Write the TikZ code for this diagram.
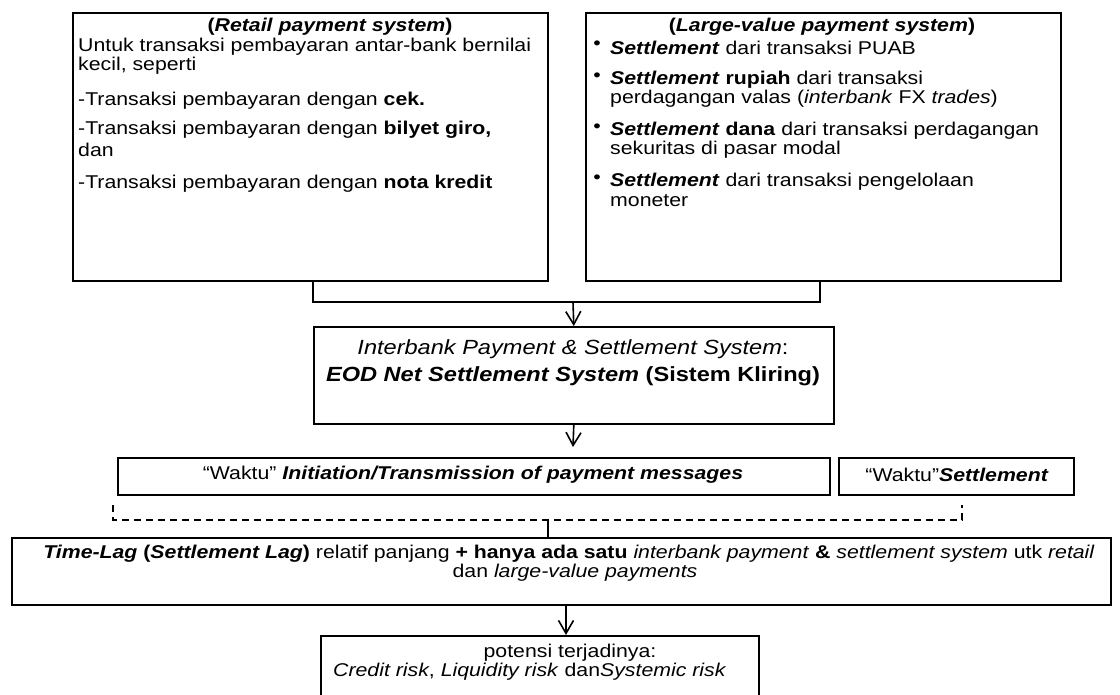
\documentclass[tikz,border=0pt]{standalone}
\usepackage{fontspec}
\setmainfont{Liberation Sans}[FakeStretch=1.15]
\usetikzlibrary{arrows.meta}
\begin{document}
\begin{tikzpicture}[x=1pt,y=-1pt,
  frame/.style={draw, line width=1.6pt, inner sep=0pt, anchor=north west},
  body/.style={inner sep=0pt, font=\fontsize{18.5}{19}\selectfont},
  lbody/.style={body, anchor=west},
  big/.style={inner sep=0pt, font=\fontsize{20.5}{22}\selectfont},
  link/.style={line width=1.6pt},
  arr/.style={line width=1.6pt, -{Straight Barb[length=13pt,width=15pt,line width=1.6pt]}},
  dsh/.style={line width=1.5pt, dash pattern=on 7pt off 5pt}
]
\useasboundingbox (0,0) rectangle (1120,694);

% ---------- two source systems ----------
\node[frame, minimum width=475pt, minimum height=268pt] (retail) at (72,12) {};
\node[frame, minimum width=475pt, minimum height=268pt] (large) at (585,12) {};

\node[body] (rt) at (330,27) {\textbf{(\textit{Retail payment system})}};
\node[lbody] (r1) at (78,47) {Untuk transaksi pembayaran antar-bank bernilai};
\node[lbody] (r2) at (78,66) {kecil, seperti};
\node[lbody] (r3) at (78,101) {-Transaksi pembayaran dengan \textbf{cek.}};
\node[lbody] (r4) at (78,130) {-Transaksi pembayaran dengan \textbf{bilyet giro,}};
\node[lbody] (r5) at (78,150) {dan};
\node[lbody] (r6) at (78,184) {-Transaksi pembayaran dengan \textbf{nota kredit}};

\node[body] (lt) at (822,27) {\textbf{(\textit{Large-value payment system})}};
\foreach \yy/\nm in {45/b1, 77/b2, 128/b3, 179/b4}
  \node[body] (\nm) at (597,\yy) {\textbullet};
\node[lbody] (l1) at (610,48) {\textbf{\textit{Settlement}} dari transaksi PUAB};
\node[lbody] (l2) at (610,80) {\textbf{\textit{Settlement}} \textbf{rupiah} dari transaksi};
\node[lbody] (l3) at (610,99) {perdagangan valas (\textit{interbank} FX \textit{trades})};
\node[lbody] (l4) at (610,131) {\textbf{\textit{Settlement}} \textbf{dana} dari transaksi perdagangan};
\node[lbody] (l5) at (610,150) {sekuritas di pasar modal};
\node[lbody] (l6) at (610,182) {\textbf{\textit{Settlement}} dari transaksi pengelolaan};
\node[lbody] (l7) at (610,201) {moneter};

% ---------- clearing system ----------
\node[frame, minimum width=520pt, minimum height=97pt] (ipss) at (313,326) {};
\node[big] (i1) at (573,349) {\textit{Interbank Payment \& Settlement System}:};
\node[big] (i2) at (573,376) {\textbf{\textit{EOD Net Settlement System} (Sistem Kliring)}};

\coordinate (brR) at (820,280);
\coordinate (join) at (573,302);
\draw[link] (retail.south -| ipss.west) |- (join) -| (brR);
\draw[arr] (join) -- (ipss.north);

\coordinate (a2end) at (573,447);
\draw[arr] (ipss.south) -- (a2end);

% ---------- timing ----------
\node[frame, minimum width=712pt, minimum height=37pt] (init) at (117,457) {};
\node[body] (it) at (473,475)
  {``Waktu'' \textbf{\textit{Initiation/Transmission of payment messages}}};
\node[frame, minimum width=235pt, minimum height=37pt] (sett) at (838,457) {};
\node[body] (st) at (957,475) {``Waktu''\textbf{\textit{Settlement}}};

\coordinate (dl) at (113,505);
\coordinate (dr) at (962,505);
\draw[dsh] (dl) -- ++(0,15) -| (dr);

% ---------- consequence ----------
\node[frame, minimum width=1099pt, minimum height=67pt] (lag) at (11,537) {};
\node[body] (g1) at (569,554) {\textbf{\textit{Time-Lag} (\textit{Settlement Lag})} relatif panjang \textbf{+ hanya ada satu} \textit{interbank payment} \textbf{\&} \textit{settlement system} utk \textit{retail}};
\node[body] (g2) at (575,573) {dan \textit{large-value payments}};

\coordinate (stub) at (548,520);
\draw[link] (stub) -- (stub |- lag.north);

\node[frame, minimum width=438pt, minimum height=80pt] (risk) at (320,635) {};
\node[body] (k1) at (570,653) {potensi terjadinya:};
\node[lbody] (k2) at (333,672) {\textit{Credit risk}, \textit{Liquidity risk} dan\textit{Systemic risk}};

\coordinate (a3x) at (566,0);
\draw[arr] (lag.south -| a3x) -- (risk.north -| a3x);
\end{tikzpicture}
\end{document}
